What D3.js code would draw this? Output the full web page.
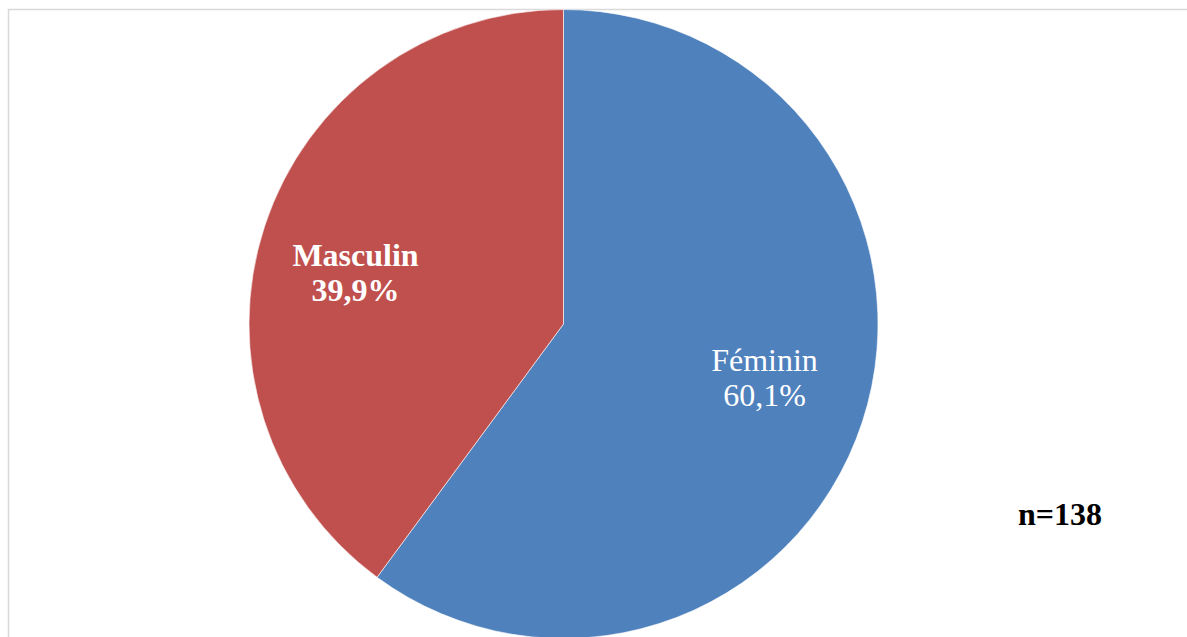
<!DOCTYPE html>
<html>
<head>
<meta charset="utf-8">
<script src="https://cdn.jsdelivr.net/npm/d3@7"></script>
<style>
  html, body { margin: 0; padding: 0; background: #fff; overflow: hidden; }
</style>
</head>
<body>
<div id="chart"></div>
<script>
// Données
const categories = ["Féminin", "Masculin"];
const values = [60.1, 39.9];
const colors = ["#4F81BD", "#C0504D"];
const note = "n=138";

const width = 1187, height = 637;

const svg = d3.select("#chart").append("svg")
    .attr("width", width)
    .attr("height", height);

// Cadre du graphique
svg.append("rect")
    .attr("x", 8.5)
    .attr("y", 9.5)
    .attr("width", width + 10)
    .attr("height", height + 10)
    .attr("fill", "#fff")
    .attr("stroke", "#d9d9d9")
    .attr("stroke-width", 1.5);

const cx = 563.5, cy = 324, radius = 314.5;

const g = svg.append("g").attr("transform", "translate(" + cx + "," + cy + ")");

const pie = d3.pie().sort(null).value(d => d.value);
const arc = d3.arc().innerRadius(0).outerRadius(radius);

const data = categories.map((c, i) => ({label: c, value: values[i], color: colors[i]}));
const arcs = pie(data);

g.selectAll("path")
    .data(arcs)
  .enter().append("path")
    .attr("d", arc)
    .attr("fill", d => d.data.color)
    .attr("stroke", "#fff")
    .attr("stroke-width", 0.6);

// Étiquettes
const fmt = v => d3.format(".1f")(v).replace(".", ",") + "%";
const labelPos = [[201, 47], [-208, -58]]; // décalage par rapport au centre
const labelBold = [false, true];

arcs.forEach((d, i) => {
    const t = g.append("text")
        .attr("text-anchor", "middle")
        .attr("fill", "#fff")
        .attr("font-family", "'Liberation Serif', 'Times New Roman', serif")
        .attr("font-size", 32)
        .attr("font-weight", labelBold[i] ? "bold" : "normal");
    t.append("tspan")
        .attr("x", labelPos[i][0])
        .attr("y", labelPos[i][1])
        .text(d.data.label);
    t.append("tspan")
        .attr("x", labelPos[i][0])
        .attr("dy", 35)
        .text(fmt(d.data.value));
});

svg.append("text")
    .attr("x", 1060)
    .attr("y", 525)
    .attr("text-anchor", "middle")
    .attr("font-family", "'Liberation Serif', 'Times New Roman', serif")
    .attr("font-size", 32)
    .attr("font-weight", "bold")
    .attr("fill", "#000")
    .text(note);
</script>
</body>
</html>
